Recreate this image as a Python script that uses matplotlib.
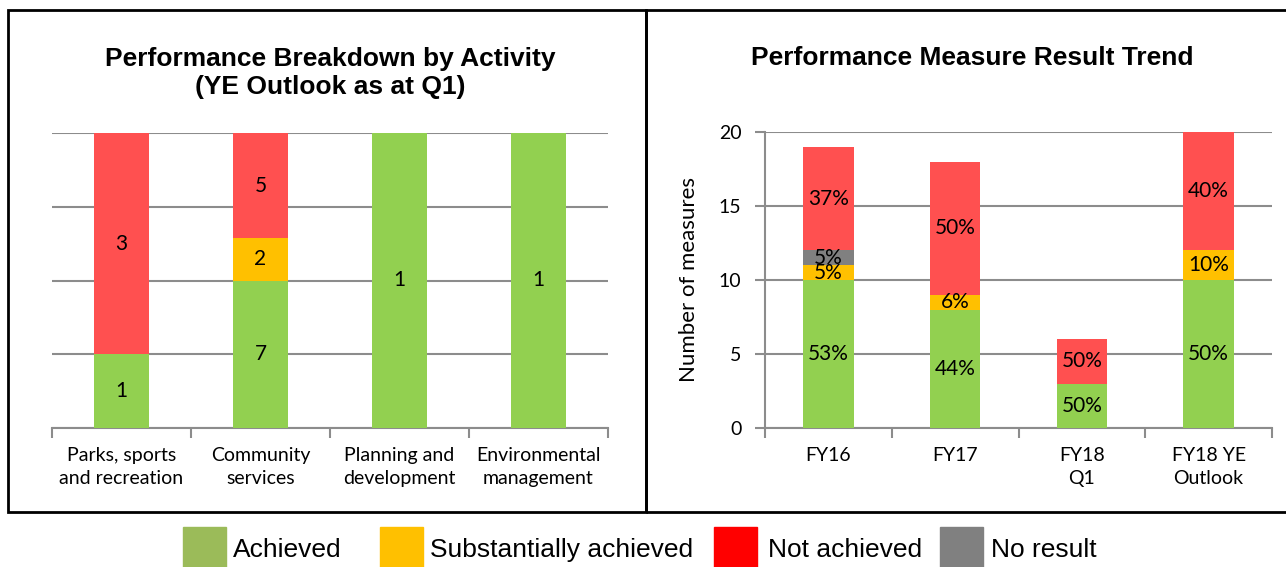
import matplotlib as mpl
mpl.use('Agg')
import matplotlib.pyplot as plt
from matplotlib.patches import Rectangle
import numpy as np

# left chart: counts per activity (YE outlook as at Q1)
activities = ['Parks, sports\nand recreation', 'Community\nservices',
              'Planning and\ndevelopment', 'Environmental\nmanagement']
act_achieved = [1, 7, 1, 1]
act_substantial = [0, 2, 0, 0]
act_no_result = [0, 0, 0, 0]
act_not_achieved = [3, 5, 0, 0]

# right chart: number of measures per period
periods = ['FY16', 'FY17', 'FY18\nQ1', 'FY18 YE\nOutlook']
achieved = [10, 8, 3, 10]
substantial = [1, 1, 0, 2]
no_result = [1, 0, 0, 0]
not_achieved = [7, 9, 3, 8]

legend_names = ['Achieved', 'Substantially achieved', 'Not achieved', 'No result']

green, orange, red, grey = '#92D050', '#FFC000', '#FF5050', '#808080'
legend_colors = ['#9BBB59', '#FFC000', '#FF0000', '#808080']
gridc = '#8C8C8C'
lab_font = 'Lato'
head_font = 'Liberation Sans'

W, H = 1286, 567
fig = plt.figure(figsize=(W / 100, H / 100), dpi=100)

def fx(px):
    return px / W

def fy(py):
    return 1 - py / H

# panel frames
fig.patches.append(Rectangle((fx(8), fy(512)), fx(646 - 8), fy(10) - fy(512),
                             transform=fig.transFigure, fill=False, lw=2, ec='black'))
fig.patches.append(Rectangle((fx(646), fy(512)), fx(1300 - 646), fy(10) - fy(512),
                             transform=fig.transFigure, fill=False, lw=2, ec='black'))

def style_axes(ax, n):
    ax.set_xlim(0, n)
    for s in ['top', 'right', 'left']:
        ax.spines[s].set_visible(False)
    ax.spines['bottom'].set_color(gridc)
    ax.spines['bottom'].set_linewidth(1.5)
    ax.set_xticks(np.arange(n) + 0.5)
    ax.set_xticks(np.arange(n + 1), minor=True)
    ax.tick_params(axis='x', which='major', length=0, pad=14)
    ax.tick_params(axis='x', which='minor', length=7, width=1.5, color=gridc, direction='out')
    ax.yaxis.grid(True, color=gridc, lw=1.5)
    ax.set_axisbelow(True)

# ---------- left: 100% stacked by activity ----------
ax1 = fig.add_axes([fx(52), fy(428), fx(608 - 52), fy(133) - fy(428)])
x = np.arange(len(activities)) + 0.5
a_series = [act_achieved, act_substantial, act_no_result, act_not_achieved]
a_cols = [green, orange, grey, red]
totals = np.sum(a_series, axis=0)
bottom = np.zeros(len(activities))
for vals, c in zip(a_series, a_cols):
    v = np.array(vals, dtype=float)
    frac = v / totals
    ax1.bar(x, frac, 0.4, bottom=bottom, color=c, zorder=3)
    for xi, b, f, n in zip(x, bottom, frac, v):
        if n > 0:
            ax1.text(xi, b + f / 2, '%d' % n, ha='center', va='center',
                     fontsize=15, family=lab_font, zorder=4)
    bottom += frac
ax1.set_ylim(0, 1)
ax1.set_yticks([0, 0.25, 0.5, 0.75, 1.0])
ax1.tick_params(axis='y', length=0, labelleft=False)
style_axes(ax1, len(activities))
ax1.set_xticklabels(activities, family=lab_font, fontsize=14, linespacing=1.4)

# ---------- right: stacked counts per period ----------
ax2 = fig.add_axes([fx(765), fy(428), fx(1272 - 765), fy(132) - fy(428)])
x2 = np.arange(len(periods)) + 0.5
p_series = [achieved, substantial, no_result, not_achieved]
p_cols = [green, orange, grey, red]
ptot = np.sum(p_series, axis=0)
bottom = np.zeros(len(periods))
for vals, c in zip(p_series, p_cols):
    v = np.array(vals, dtype=float)
    ax2.bar(x2, v, 0.4, bottom=bottom, color=c, zorder=3)
    for xi, b, n, t in zip(x2, bottom, v, ptot):
        if n > 0:
            ax2.text(xi, b + n / 2, '%d%%' % round(100 * n / t), ha='center', va='center',
                     fontsize=15, family=lab_font, zorder=4)
    bottom += v
# zero-valued segments show as a thin line on the baseline
for vals, c in reversed(list(zip(p_series, p_cols))):
    for xi, n in zip(x2, vals):
        if n == 0:
            ax2.bar(xi, 0.06, 0.4, bottom=-0.03, color=c, zorder=3.5)
ax2.set_ylim(0, 20)
ax2.set_yticks([0, 5, 10, 15, 20])
style_axes(ax2, len(periods))
ax2.spines['left'].set_visible(True)
ax2.spines['left'].set_color(gridc)
ax2.spines['left'].set_linewidth(1.5)
ax2.tick_params(axis='y', length=7, width=1.5, color=gridc, pad=10)
for lbl in ax2.get_yticklabels():
    lbl.set_family(lab_font)
    lbl.set_fontsize(14)
ax2.set_xticklabels(periods, family=lab_font, fontsize=14, linespacing=1.4)
ax2.set_ylabel('Number of measures', family=lab_font, fontsize=16, labelpad=14)

# titles
fig.text(fx(330), fy(73), 'Performance Breakdown by Activity\n(YE Outlook as at Q1)',
         ha='center', va='center', family=head_font, weight='bold', fontsize=19,
         linespacing=1.2)
fig.text(fx(972), fy(58), 'Performance Measure Result Trend',
         ha='center', va='center', family=head_font, weight='bold', fontsize=19)

# legend
sq_x = [183, 380, 714, 940]
txt_x = [233, 430, 768, 991]
for name, c, sx, tx in zip(legend_names, legend_colors, sq_x, txt_x):
    fig.patches.append(Rectangle((fx(sx), fy(570)), fx(43), fy(527) - fy(570),
                                 transform=fig.transFigure, color=c))
    fig.text(fx(tx), fy(550), name, ha='left', va='center', family=head_font,
             fontsize=19)

fig.savefig('out.png', dpi=100)
